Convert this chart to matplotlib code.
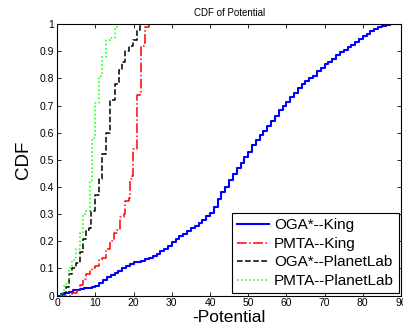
import matplotlib
matplotlib.use("Agg")
import matplotlib.pyplot as plt

oga_king_x = [0, 1, 2, 3, 4, 5, 6, 7, 8, 9, 10, 11, 12, 13, 14, 15, 16, 17, 18, 19,
              20, 21, 22, 23, 24, 25, 26, 27, 28, 29, 30, 31, 32, 33, 34, 35, 36, 37,
              38, 39, 40, 41, 42, 43, 44, 45, 46, 47, 48, 49, 50, 51, 52, 53, 54, 55,
              56, 57, 58, 59, 60, 61, 62, 63, 64, 65, 66, 67, 68, 69, 70, 71, 72, 73,
              74, 75, 76, 77, 78, 79, 80, 81, 82, 83, 84, 85, 86, 87, 88]
oga_king_y = [0, 0.005, 0.01, 0.015, 0.02, 0.022, 0.025, 0.027, 0.028, 0.03, 0.035,
              0.045, 0.058, 0.068, 0.075, 0.082, 0.09, 0.1, 0.108, 0.117, 0.122, 0.125,
              0.128, 0.133, 0.14, 0.147, 0.155, 0.163, 0.172, 0.183, 0.197, 0.207,
              0.218, 0.228, 0.238, 0.248, 0.258, 0.268, 0.28, 0.292, 0.305, 0.325,
              0.355, 0.38, 0.4, 0.425, 0.448, 0.47, 0.49, 0.51, 0.53, 0.553, 0.573,
              0.59, 0.605, 0.625, 0.645, 0.663, 0.683, 0.7, 0.715, 0.73, 0.748, 0.765,
              0.778, 0.79, 0.8, 0.81, 0.828, 0.84, 0.852, 0.862, 0.873, 0.885, 0.898,
              0.905, 0.915, 0.925, 0.935, 0.945, 0.955, 0.965, 0.975, 0.983, 0.99,
              0.995, 0.998, 1.0, 1.0]

pmta_king_x = [0, 3.9, 5.2, 5.9, 6.8, 7.6, 8.5, 9.1, 10.0, 10.9, 11.7, 12.9, 13.9,
               14.8, 15.7, 16.5, 17.4, 17.8, 18.7, 19.1, 19.6, 19.8, 20.9, 21.0, 21.7,
               22.0, 22.8, 23.1, 24.0, 25.0]
pmta_king_y = [0, 0.01, 0.02, 0.04, 0.06, 0.08, 0.09, 0.1, 0.11, 0.13, 0.14, 0.17,
               0.2, 0.23, 0.24, 0.29, 0.3, 0.35, 0.36, 0.43, 0.44, 0.54, 0.55, 0.74,
               0.75, 0.92, 0.93, 0.99, 1.0, 1.0]

oga_pl_x = [0, 1.3, 2.2, 3.0, 3.9, 5.0, 5.9, 6.8, 7.6, 8.3, 8.9, 10.0, 10.9, 11.7,
            12.9, 13.9, 15.0, 16.1, 17.0, 17.8, 18.7, 19.8, 20.9, 21.7, 22.5]
oga_pl_y = [0, 0.01, 0.03, 0.08, 0.1, 0.12, 0.16, 0.21, 0.24, 0.25, 0.31, 0.37,
            0.43, 0.52, 0.6, 0.72, 0.78, 0.83, 0.86, 0.9, 0.92, 0.94, 0.98, 1.0, 1.0]

pmta_pl_x = [0, 0.9, 1.7, 2.3, 3.0, 3.9, 5.0, 5.9, 6.8, 7.6, 8.5, 9.0, 9.8, 10.9,
             11.7, 12.9, 13.9, 15.0, 15.7, 16.5]
pmta_pl_y = [0, 0.01, 0.035, 0.05, 0.1, 0.13, 0.17, 0.23, 0.3, 0.31, 0.42, 0.58,
             0.71, 0.81, 0.88, 0.94, 0.95, 0.99, 1.0, 1.0]

x_ticks = [0, 10, 20, 30, 40, 50, 60, 70, 80, 90]
y_ticks = [0, 0.1, 0.2, 0.3, 0.4, 0.5, 0.6, 0.7, 0.8, 0.9, 1]
y_tick_labels = ["0", "0.1", "0.2", "0.3", "0.4", "0.5", "0.6", "0.7", "0.8", "0.9", "1"]

plt.rcParams["font.family"] = ["Liberation Sans", "DejaVu Sans"]

fig = plt.figure(figsize=(4.03, 3.31), dpi=100)
ax = fig.add_axes([0.142, 0.107, 0.853, 0.82])

ax.step(oga_king_x, oga_king_y, where="post", color="#0000ff", lw=1.5,
        linestyle="-", label="OGA*--King")
ax.step(pmta_king_x, pmta_king_y, where="post", color="#ff0000", lw=1.1,
        linestyle="-.", label="PMTA--King")
ax.step(oga_pl_x, oga_pl_y, where="post", color="black", lw=1.1,
        linestyle="--", label="OGA*--PlanetLab")
ax.step(pmta_pl_x, pmta_pl_y, where="post", color="#00ff00", lw=1.1,
        linestyle=":", label="PMTA--PlanetLab")

ax.set_xlim(0, 90)
ax.set_ylim(0, 1)
ax.set_xticks(x_ticks)
ax.set_yticks(y_ticks)
ax.set_yticklabels(y_tick_labels)
ax.tick_params(direction="in", top=True, right=True, length=3, width=0.6,
               labelsize=7.5, pad=2)
for sp in ax.spines.values():
    sp.set_linewidth(0.8)

ax.set_title("CDF of Potential", fontsize=7, pad=6)
ax.set_xlabel("-Potential", fontsize=12.5, labelpad=1)
ax.set_ylabel("CDF", fontsize=13.5, labelpad=6)

# legenda in basso a destra, cornice nera squadrata come in MATLAB
leg = ax.legend(loc="lower right", bbox_to_anchor=(0.995, 0.008), fontsize=11,
                frameon=True, fancybox=False, edgecolor="black", framealpha=1,
                borderaxespad=0, handlelength=2.1, handletextpad=0.33,
                labelspacing=0.3, borderpad=0.35)
leg.get_frame().set_linewidth(0.8)

fig.savefig("out.png", dpi=100)
